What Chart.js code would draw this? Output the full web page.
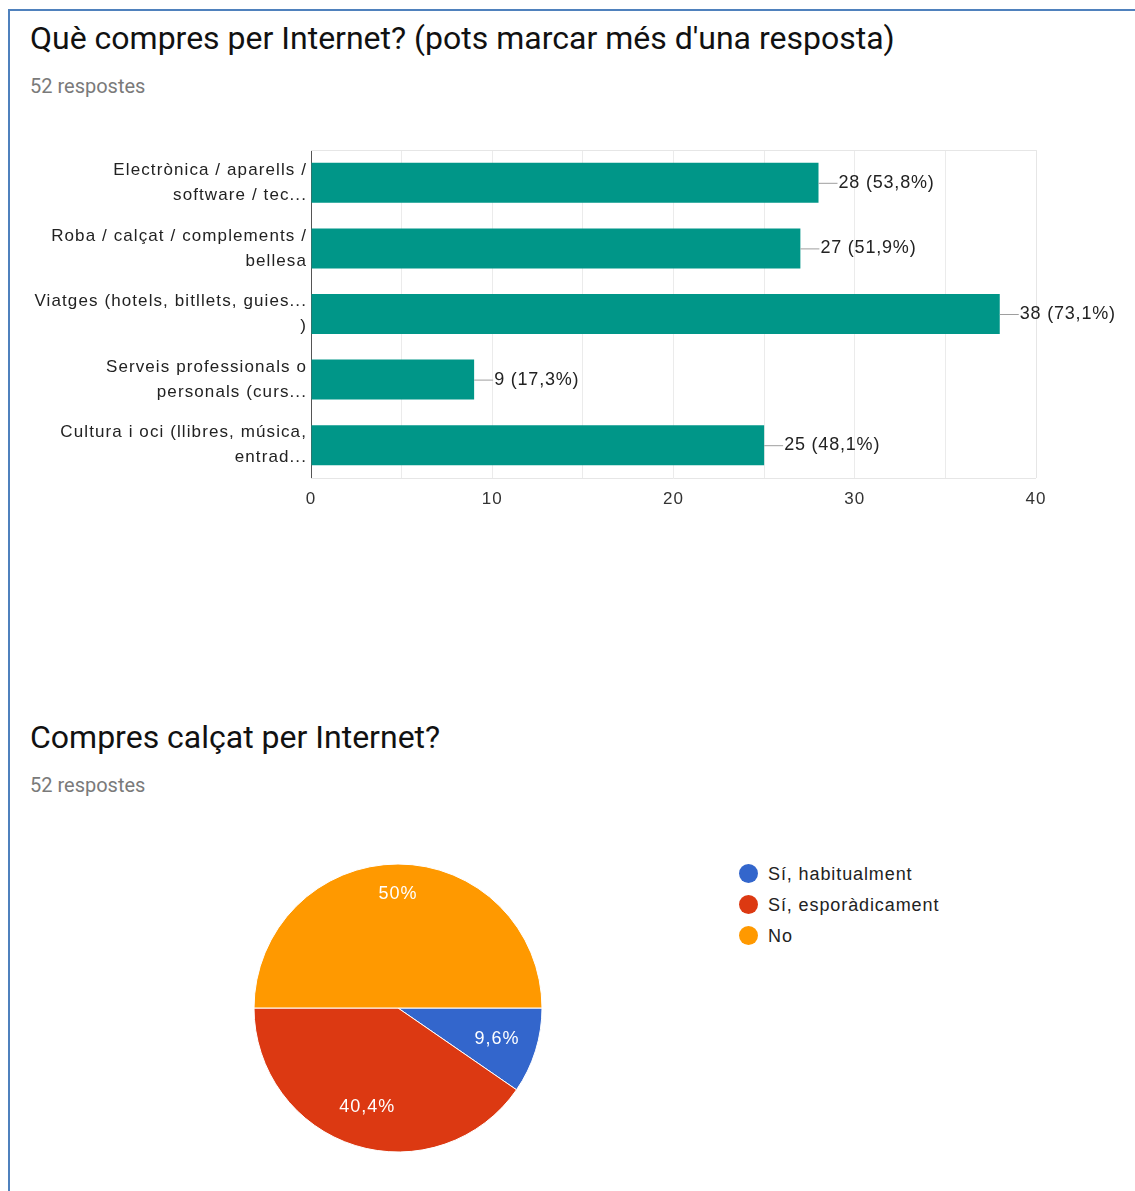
<!DOCTYPE html>
<html>
<head>
<meta charset="utf-8">
<script src="https://cdn.jsdelivr.net/npm/chart.js@4.4.1/dist/chart.umd.min.js"></script>
<style>
  html, body { margin: 0; padding: 0; background: #fff; }
  body { width: 1135px; height: 1191px; position: relative; overflow: hidden; font-family: Roboto, "Noto Sans", sans-serif; }
  .frame { position: absolute; left: 8px; top: 9px; width: 1135px; height: 1200px; border-left: 2px solid #4f81bd; border-top: 2px solid #4f81bd; }
  .title { position: absolute; left: 30px; font-size: 32px; color: #111; white-space: nowrap; }
  .sub { position: absolute; left: 30px; font-size: 20px; color: #7a7a7a; white-space: nowrap; }
  #barWrap { position: absolute; left: 0; top: 140px; width: 1135px; height: 378px; }
  #pieWrap { position: absolute; left: 248px; top: 858px; width: 300px; height: 300px; }
  #legend { position: absolute; left: 739px; top: 858px; font-family: "Liberation Sans", Arial, sans-serif; font-size: 18px; letter-spacing: 0.9px; color: #222; }
  #legend div { height: 31px; line-height: 24px; display: flex; align-items: center; }
  #legend span.dot { display: inline-block; width: 19px; height: 19px; border-radius: 50%; margin-right: 10px; }
</style>
</head>
<body>
<div class="frame"></div>
<div class="title" style="top:19px;">Què compres per Internet? (pots marcar més d'una resposta)</div>
<div class="sub" style="top:74px;">52 respostes</div>
<div id="barWrap"><canvas id="bar"></canvas></div>
<div class="title" style="top:718px;">Compres calçat per Internet?</div>
<div class="sub" style="top:773px;">52 respostes</div>
<div id="pieWrap"><canvas id="pie"></canvas></div>
<div id="legend"></div>
<script>
// ---- data ----
const barCategories = [
  ["Electrònica / aparells /", "software / tec..."],
  ["Roba / calçat / complements /", "bellesa"],
  ["Viatges (hotels, bitllets, guies...", ")"],
  ["Serveis professionals o", "personals (curs..."],
  ["Cultura i oci (llibres, música,", "entrad..."]
];
const barValues = [28, 27, 38, 9, 25];
const barPercents = ["53,8%", "51,9%", "73,1%", "17,3%", "48,1%"];
const xTicks = [0, 10, 20, 30, 40];

const pieLabels = ["Sí, habitualment", "Sí, esporàdicament", "No"];
const pieValues = [5, 21, 26];
const piePercents = ["9,6%", "40,4%", "50%"];
const pieColors = ["#3366cc", "#dc3912", "#ff9900"];

const FONT = "'Liberation Sans', Arial, sans-serif";

// ---- bar chart ----
const barLabelPlugin = {
  id: 'barLabels',
  beforeDraw(chart) {
    chart.ctx.letterSpacing = '1.1px';
  },
  afterDatasetsDraw(chart) {
    const ctx = chart.ctx;
    const meta = chart.getDatasetMeta(0);
    ctx.save();
    ctx.letterSpacing = '0.8px';
    ctx.font = "18px " + FONT;
    ctx.textBaseline = 'middle';
    ctx.textAlign = 'left';
    meta.data.forEach((el, i) => {
      const x = el.x, y = el.y;
      ctx.strokeStyle = '#9e9e9e';
      ctx.lineWidth = 1;
      ctx.beginPath();
      ctx.moveTo(x, y + 0.5);
      ctx.lineTo(x + 19, y + 0.5);
      ctx.stroke();
      ctx.fillStyle = '#222';
      ctx.fillText(barValues[i] + " (" + barPercents[i] + ")", x + 20, y);
    });
    ctx.restore();
  },
  beforeDatasetsDraw(chart) {
    const ctx = chart.ctx, a = chart.chartArea;
    ctx.save();
    ctx.strokeStyle = '#e6e6e6';
    ctx.lineWidth = 1;
    ctx.beginPath();
    ctx.moveTo(a.left, a.top + 0.5);
    ctx.lineTo(a.right + 0.5, a.top + 0.5);
    ctx.lineTo(a.right + 0.5, a.bottom);
    ctx.moveTo(a.left, a.bottom + 0.5);
    ctx.lineTo(a.right, a.bottom + 0.5);
    ctx.stroke();
    ctx.restore();
  }
};

new Chart(document.getElementById('bar'), {
  type: 'bar',
  data: {
    labels: barCategories,
    datasets: [{
      data: barValues,
      backgroundColor: '#009688',
      borderWidth: 0,
      categoryPercentage: 1,
      barPercentage: 0.61
    }]
  },
  options: {
    indexAxis: 'y',
    responsive: true,
    maintainAspectRatio: false,
    animation: false,
    layout: { padding: { top: 10, right: 99, left: 0, bottom: 0 } },
    plugins: { legend: { display: false }, tooltip: { enabled: false } },
    scales: {
      x: {
        min: 0, max: 40,
        afterFit(s) { s.height = 40; s.paddingLeft = 0; s.paddingRight = 0; },
        afterBuildTicks(s) { s.ticks = [0,5,10,15,20,25,30,35,40].map(v => ({ value: v })); },
        ticks: {
          padding: 11,
          color: '#333',
          maxRotation: 0,
          autoSkip: false,
          font: { family: FONT, size: 17 },
          callback: (v) => xTicks.includes(v) ? String(v) : ''
        },
        grid: { color: '#ebebeb', drawTicks: false },
        border: { display: false }
      },
      y: {
        afterFit(s) { s.width = 311; s.paddingTop = 0; s.paddingBottom = 0; },
        ticks: {
          padding: 4,
          color: '#222',
          autoSkip: false,
          font: { family: FONT, size: 17, lineHeight: 1.48 }
        },
        grid: { display: false, drawTicks: false },
        border: { display: true, color: '#555', width: 1 }
      }
    }
  },
  plugins: [barLabelPlugin]
});

// ---- pie chart ----
const pieLabelPlugin = {
  id: 'pieLabels',
  afterDatasetsDraw(chart) {
    const ctx = chart.ctx;
    const meta = chart.getDatasetMeta(0);
    ctx.save();
    ctx.letterSpacing = '1px';
    ctx.font = "18px " + FONT;
    ctx.fillStyle = '#fff';
    ctx.textAlign = 'center';
    ctx.textBaseline = 'middle';
    meta.data.forEach((arc, i) => {
      const mid = (arc.startAngle + arc.endAngle) / 2;
      const r = arc.outerRadius * (i === 2 ? 0.79 : 0.72);
      ctx.fillText(piePercents[i], arc.x + Math.cos(mid) * r, arc.y + Math.sin(mid) * r);
    });
    ctx.restore();
  }
};

new Chart(document.getElementById('pie'), {
  type: 'pie',
  data: {
    labels: pieLabels,
    datasets: [{
      data: pieValues,
      backgroundColor: pieColors,
      borderColor: '#fff',
      borderWidth: 1
    }]
  },
  options: {
    responsive: true,
    maintainAspectRatio: false,
    animation: false,
    rotation: 90,
    radius: 144,
    plugins: { legend: { display: false }, tooltip: { enabled: false } }
  },
  plugins: [pieLabelPlugin]
});

// legend
const legend = document.getElementById('legend');
pieLabels.forEach((l, i) => {
  const d = document.createElement('div');
  d.innerHTML = '<span class="dot" style="background:' + pieColors[i] + '"></span>' + l;
  legend.appendChild(d);
});
</script>
</body>
</html>
